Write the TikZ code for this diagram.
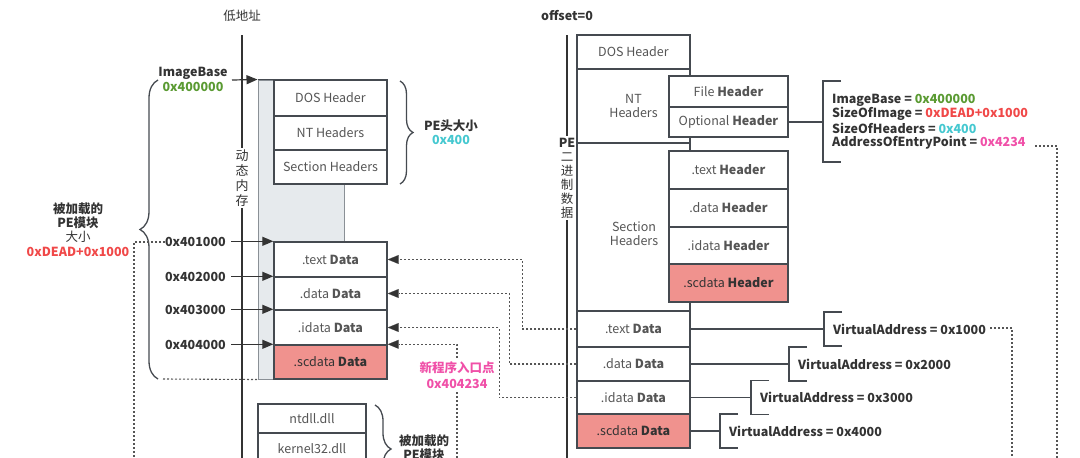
\documentclass[tikz,border=0pt]{standalone}
\usepackage{fontspec}
\setmainfont{Noto Sans CJK SC}
\usetikzlibrary{arrows.meta,decorations.pathreplacing,calc}
\definecolor{boxc}{HTML}{454A50}
\definecolor{dark}{HTML}{333333}
\definecolor{txt}{HTML}{555555}
\definecolor{pinkf}{HTML}{F0928E}
\definecolor{memf}{HTML}{E6EAED}
\definecolor{memd}{HTML}{8A9096}
\definecolor{cgreen}{HTML}{5A9A32}
\definecolor{cred}{HTML}{F04848}
\definecolor{ccyan}{HTML}{45C8D0}
\definecolor{cpink}{HTML}{F050A8}
\definecolor{dotc}{HTML}{555555}
\begin{document}
\begin{tikzpicture}[x=1pt,y=-1pt,
  box/.style={draw=boxc, line width=1.4pt, fill=white, inner sep=0pt, align=center,
    font=\fontsize{12.5}{14}\selectfont, text=txt},
  pinkbox/.style={box, fill=pinkf, text=dark},
  lbl/.style={font=\fontsize{12.5}{14}\selectfont\bfseries, text=dark, inner sep=0pt, align=center},
  reg/.style={font=\fontsize{12.5}{14}\selectfont, text=dark, inner sep=0pt, align=center},
  arr/.style={-{Triangle[length=11pt,width=9pt,fill=dark]}, draw=dark, line width=1.2pt},
  dotarr/.style={-{Triangle[length=11pt,width=9pt,fill=dark,line width=0.1pt]}, draw=dotc, line width=1.1pt, dash pattern=on 2pt off 2pt},
  dotl/.style={draw=dotc, line width=1.1pt, dash pattern=on 2pt off 2pt},
  axis/.style={draw=dark, line width=2.6pt},
  thinl/.style={draw=boxc, line width=1.3pt},
  bracec/.style={draw=boxc, line width=1.3pt, decorate}
]
\useasboundingbox (0,0) rectangle (1080,458);

% ---------------- left axis ----------------
\node[reg] (lowaddr) at (242,16) {低地址};
\draw[axis] (242,35) -- (242,458);
\node[reg, fill=white, inner sep=2pt, font=\fontsize{13}{14.8}\selectfont] (dyn) at (242,178) {动\\态\\内\\存};

% memory region
\node[draw=memd, line width=1pt, fill=memf, minimum width=86pt, minimum height=299pt, inner sep=0pt] (mem) at (301,229.5) {};
\draw[draw=boxc, line width=1.3pt] (mem.north west) -- (mem.north east);

% left header boxes
\node[box, minimum width=113pt, minimum height=36pt] (dosL) at (330.5,98) {DOS Header};
\node[box, minimum width=113pt, minimum height=34pt] (ntL) at (330.5,133) {NT Headers};
\node[box, minimum width=113pt, minimum height=34pt] (secL) at (330.5,167) {Section Headers};
% left data boxes
\node[box, minimum width=113pt, minimum height=35pt] (textL) at (330.5,259.5) {.text \textbf{Data}};
\node[box, minimum width=113pt, minimum height=33pt] (dataL) at (330.5,293.5) {.data \textbf{Data}};
\node[box, minimum width=113pt, minimum height=35pt] (idataL) at (330.5,327.5) {.idata \textbf{Data}};
\node[pinkbox, minimum width=113pt, minimum height=34pt] (scL) at (330.5,362) {.scdata \textbf{Data}};

% left arrows and address labels
\node[lbl] (ib) at (193,73) {ImageBase};
\node[lbl, text=cgreen] (ibv) at (193,87) {0x400000};
\draw[arr] (232,80) -- (mem.north west);
\draw[arr] ($(textL.north west)+(-42,0)$) -- (textL.north west);
\draw[arr] ($(dataL.north west)+(-42,0)$) -- (dataL.north west);
\draw[arr] ($(idataL.north west)+(-42,0)$) -- (idataL.north west);
\draw[arr] ($(scL.north west)+(-42,0)$) -- (scL.north west);
\node[lbl, anchor=east] (a1) at (226,242) {0x401000};
\node[lbl, anchor=east] (a2) at (226,277) {0x402000};
\node[lbl, anchor=east] (a3) at (226,310) {0x403000};
\node[lbl, anchor=east] (a4) at (226,345) {0x404000};

% left brace
\draw[bracec, decoration={brace, amplitude=18pt, aspect=0.5}] (158,379) -- (158,80);
\node[lbl] (sz1) at (78,209) {被加载的};
\node[lbl] (sz2) at (78,223) {PE模块};
\node[reg] (sz3) at (78,237) {大小};
\node[lbl, text=cred] (sz4) at (78,252) {0xDEAD+0x1000};
\coordinate (ld1) at (165,242);
\coordinate (ld2) at (134,458);
\draw[dotl] (ld1) -| (ld2);
\draw[dotl] (163,379) -- (mem.south west);

% PE header size brace
\draw[bracec, decoration={brace, amplitude=13pt, aspect=0.5}] (400,81) -- (400,184);
\node[lbl] (phs) at (451,126) {PE头大小};
\node[lbl, text=ccyan] (phsv) at (451,140) {0x400};

% loaded modules
\node[box, minimum width=108pt, minimum height=29pt] (ntdll) at (312,418.5) {ntdll.dll};
\node[box, minimum width=108pt, minimum height=32pt] (k32) at (312,449) {kernel32.dll};
\draw[bracec, decoration={brace, amplitude=16pt, aspect=0.5}] (375,405) -- (375,493);
\node[lbl] (lm1) at (424,441) {被加载的};
\node[lbl] (lm2) at (424,455) {PE模块};

% ---------------- right column ----------------
\node[lbl] (off) at (567,16) {offset=0};
\draw[axis] (567,35) -- (567,458);
\node[reg, fill=white, inner sep=2pt, font=\fontsize{12.5}{14}\selectfont] (pebin) at (567,178) {\textbf{PE}\\二\\进\\制\\数\\据};

\node[box, minimum width=113pt, minimum height=34pt] (dosR) at (633.5,52) {DOS Header};
\node[box, minimum width=113pt, minimum height=74pt] (ntR) at (633.5,106) {NT\\Headers};
\node[box, minimum width=113pt, minimum height=168pt] (secR) at (633.5,227) {};
\node[reg, text=txt] (secRt) at (634,234) {Section\\Headers};

\node[box, minimum width=119pt, minimum height=31pt] (fileH) at (728.5,91.5) {File \textbf{Header}};
\node[box, minimum width=119pt, minimum height=30pt] (optH) at (728.5,122) {Optional \textbf{Header}};
\node[box, minimum width=119pt, minimum height=38pt] (textH) at (728.5,170) {.text \textbf{Header}};
\node[box, minimum width=119pt, minimum height=38pt] (dataH) at (728.5,208) {.data \textbf{Header}};
\node[box, minimum width=119pt, minimum height=37pt] (idataH) at (728.5,245.5) {.idata \textbf{Header}};
\node[pinkbox, minimum width=119pt, minimum height=38pt] (scH) at (728.5,283) {.scdata \textbf{Header}};

\node[box, minimum width=113pt, minimum height=36pt] (textR) at (633.5,329) {.text \textbf{Data}};
\node[box, minimum width=113pt, minimum height=34pt] (dataR) at (633.5,364) {.data \textbf{Data}};
\node[box, minimum width=113pt, minimum height=33pt] (idataR) at (633.5,397.5) {.idata \textbf{Data}};
\node[pinkbox, minimum width=113pt, minimum height=34pt] (scR) at (633.5,431) {.scdata \textbf{Data}};

% mapping arrows (file -> memory)
\draw[dotarr] (textR.west) -- ++(-54,0) |- (textL.east);
\draw[dotarr] (dataR.west) -- ++(-67,0) |- (dataL.east);
\draw[dotarr] (idataR.west) -- ++(-77,0) |- (idataL.east);
\coordinate (ep) at (457,458);
\draw[dotarr] (ep) |- (scL.north east);
\node[lbl, text=cpink, fill=white, inner sep=2pt, font=\fontsize{12.5}{15.5}\selectfont\bfseries] (epl) at (457,375) {新程序入口点\\0x404234};

% optional header fields
\coordinate (ob) at (823,122);
\draw[thinl] (optH.east) -- (ob);
\draw[thinl] ($(ob)+(18,-41)$) -- ($(ob)+(0,-41)$) -- ($(ob)+(0,40)$) -- ($(ob)+(18,40)$);
\node[lbl, anchor=west] (f1) at (832,100) {ImageBase = \textcolor{cgreen}{0x400000}};
\node[lbl, anchor=west] (f2) at (832,114) {SizeOfImage = \textcolor{cred}{0xDEAD+0x1000}};
\node[lbl, anchor=west] (f3) at (832,128) {SizeOfHeaders = \textcolor{ccyan}{0x400}};
\node[lbl, anchor=west] (f4) at (832,143) {AddressOfEntryPoint = \textcolor{cpink}{0x4234}};
\coordinate (e1) at (1035,146);
\coordinate (e2) at (1057,458);
\draw[dotl] (e1) -| (e2);

% VirtualAddress brackets
\coordinate (b1) at (824,329);
\coordinate (b2) at (789,364);
\coordinate (b3) at (751,397.5);
\coordinate (b4) at (720,431);
\draw[thinl] (textR.east) -- (b1);
\draw[thinl] (dataR.east) -- (b2);
\draw[thinl] (idataR.east) -- (b3);
\draw[thinl] (scR.east) -- (b4);
\foreach \b in {b1,b2,b3,b4}{
  \draw[thinl] ($(\b)+(18,-17)$) -- ($(\b)+(0,-17)$) -- ($(\b)+(0,17)$) -- ($(\b)+(18,17)$);
}
\node[lbl, anchor=west] (v1) at (833,329) {VirtualAddress = 0x1000};
\node[lbl, anchor=west] (v2) at (798,364) {VirtualAddress = 0x2000};
\node[lbl, anchor=west] (v3) at (760,397.5) {VirtualAddress = 0x3000};
\node[lbl, anchor=west] (v4) at (729,431) {VirtualAddress = 0x4000};
\coordinate (vd1) at (990,328);
\coordinate (vd2) at (1012,458);
\draw[dotl] (vd1) -| (vd2);
\end{tikzpicture}
\end{document}
